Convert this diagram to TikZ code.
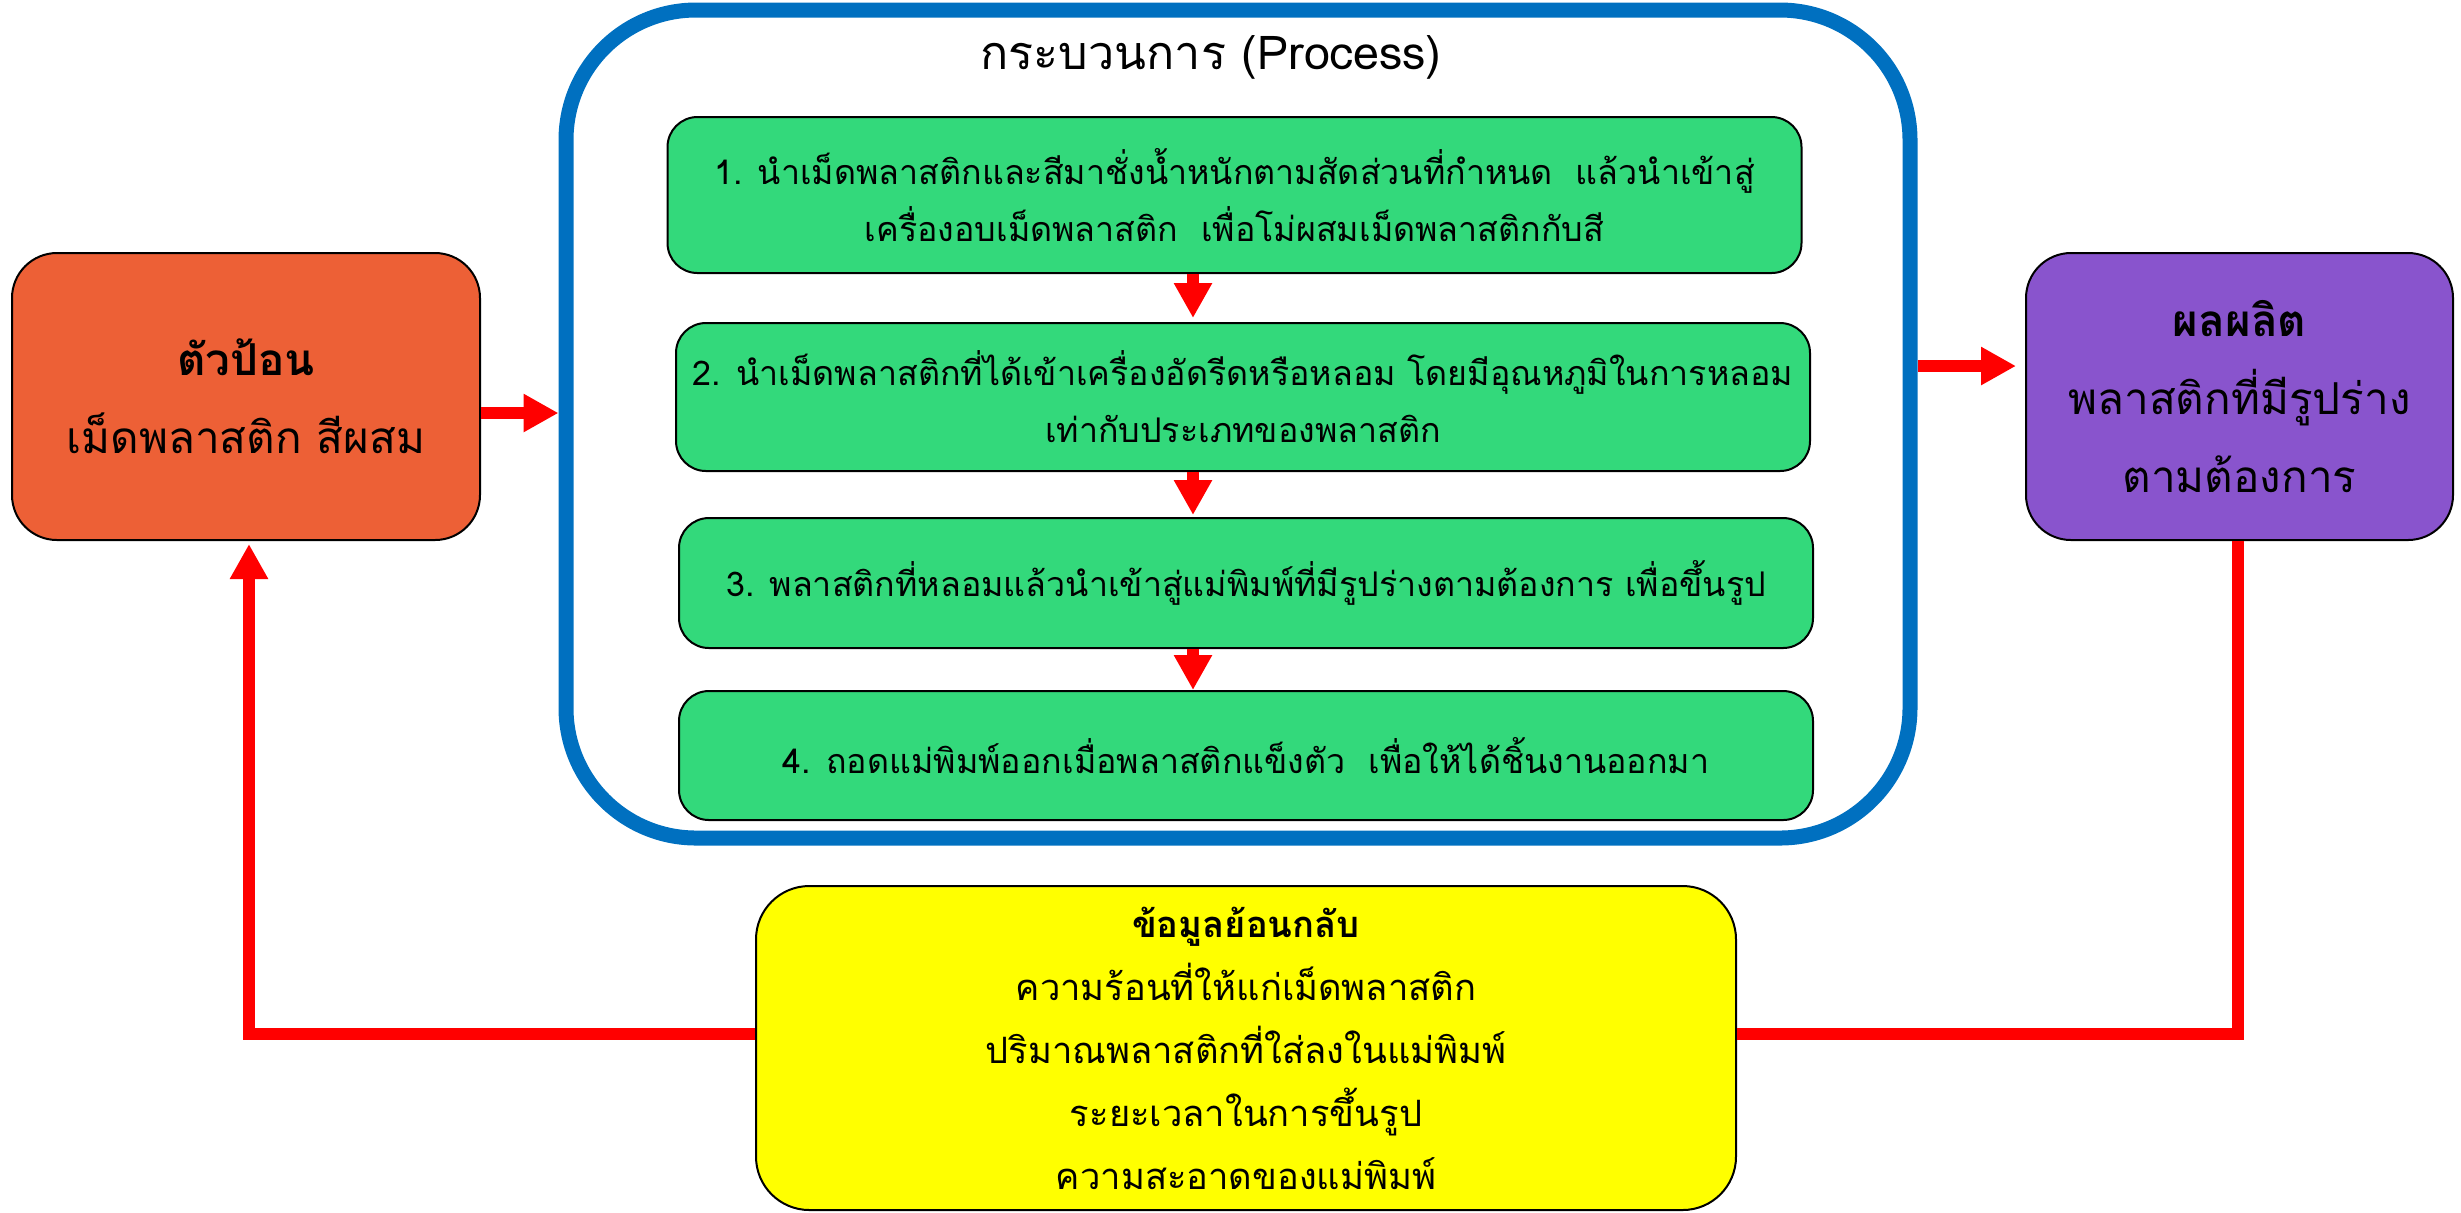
\documentclass[tikz,border=0pt]{standalone}
\usepackage{fontspec}
\newfontfamily\thai[Script=Thai]{Loma}
\usetikzlibrary{arrows.meta}
\definecolor{cOrange}{RGB}{237,96,54}
\definecolor{cGreen}{RGB}{51,217,123}
\definecolor{cPurple}{RGB}{137,84,205}
\definecolor{cYellow}{RGB}{255,255,0}
\definecolor{cBlue}{RGB}{0,112,192}
\definecolor{cRed}{RGB}{255,0,0}
\begin{document}
\begin{tikzpicture}[x=0.3pt,y=-0.3pt, font=\thai,
  box/.style={draw=black, line width=0.6pt, rounded corners=13.5pt, inner sep=0pt, align=center},
  sidebox/.style={box, minimum width=427*0.3pt, minimum height=287*0.3pt, font=\thai\fontsize{13.2pt}{23.4pt}\selectfont},
  stepbox/.style={box, fill=cGreen, rounded corners=9pt, minimum width=1134*0.3pt, font=\thai\fontsize{10.2pt}{17.1pt}\selectfont},
  arr/.style={draw=cRed, line width=3.6pt, -{Triangle[length=10.5pt,width=10.8pt]}},
  fbline/.style={draw=cRed, line width=3.5pt}]
\useasboundingbox (0,0) rectangle (2461,1212);

% process frame
\node[draw=cBlue, line width=4.5pt, rounded corners=39pt, minimum width=1344*0.3pt, minimum height=828*0.3pt, inner sep=0pt] (proc) at (1238,424) {};
\node[font=\thai\fontsize{14pt}{17pt}\selectfont, inner sep=0pt] (ptitle) at (1211,57) {กระบวนการ (Process)};

% steps
\node[stepbox, minimum height=156*0.3pt] (s1) at (1234.5,195) {1. นำเม็ดพลาสติกและสีมาชั่งน้ำหนักตามสัดส่วนที่กำหนด\ \ แล้วนำเข้าสู่\\เครื่องอบเม็ดพลาสติก\ \ เพื่อโม่ผสมเม็ดพลาสติกกับสี};
\node[stepbox, minimum height=148*0.3pt] (s2) at (1243,397) {2. นำเม็ดพลาสติกที่ได้เข้าเครื่องอัดรีดหรือหลอม โดยมีอุณหภูมิในการหลอม\\เท่ากับประเภทของพลาสติก};
\node[stepbox, minimum height=130*0.3pt] (s3) at (1246,583) {3. พลาสติกที่หลอมแล้วนำเข้าสู่แม่พิมพ์ที่มีรูปร่างตามต้องการ เพื่อขึ้นรูป};
\node[stepbox, minimum height=129*0.3pt] (s4) at (1246,755.5) {4. ถอดแม่พิมพ์ออกเมื่อพลาสติกแข็งตัว\ \ เพื่อให้ได้ชิ้นงานออกมา};

% side boxes
\node[sidebox, fill=cOrange, minimum width=468*0.3pt] (inp) at (246,396.5) {{\bfseries ตัวป้อน}\\เม็ดพลาสติก สีผสม};
\node[sidebox, fill=cPurple] (out) at (2239.5,396.5) {{\bfseries ผลผลิต}\\พลาสติกที่มีรูปร่าง\\ตามต้องการ};

% feedback
\node[box, fill=cYellow, rounded corners=16pt, minimum width=980*0.3pt, minimum height=324*0.3pt, font=\thai\fontsize{10.9pt}{18.9pt}\selectfont] (fb) at (1246,1048)
  {{\bfseries ข้อมูลย้อนกลับ}\\ความร้อนที่ให้แก่เม็ดพลาสติก\\ปริมาณพลาสติกที่ใส่ลงในแม่พิมพ์\\ระยะเวลาในการขึ้นรูป\\ความสะอาดของแม่พิมพ์};

% arrows between steps
\draw[arr, shorten >=1.2pt] (s1.south -| 1193,0) -- (s2.north -| 1193,0);
\draw[arr, shorten >=0.6pt] (s2.south -| 1193,0) -- (s3.north -| 1193,0);
\draw[arr] (s3.south -| 1193,0) -- (s4.north -| 1193,0);

% input / output arrows
\draw[arr] (inp.east |- 0,413) -- (proc.west |- 0,413);
\draw[arr, shorten >=2.7pt] (proc.east |- 0,366) -- (out.west |- 0,366);

% feedback loop
\draw[fbline] (out.south -| 2238,0) -- (2238,1034) -- (fb.east |- 0,1034);
\draw[arr, line width=3.5pt, shorten >=0.9pt] (fb.west |- 0,1034) -- (249,1034) -- (inp.south -| 249,0);
\end{tikzpicture}
\end{document}
